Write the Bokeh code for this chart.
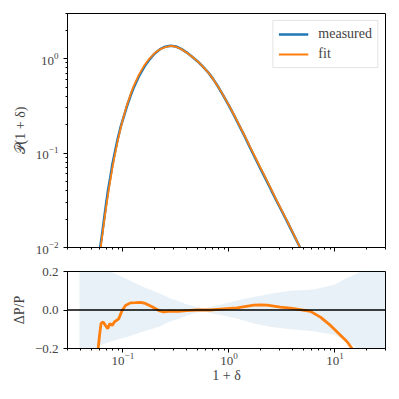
from bokeh.plotting import figure
from bokeh.layouts import column
from bokeh.models import FixedTicker, Legend, LegendItem, Span, CustomJSTickFormatter
from bokeh.embed import file_html
from bokeh.resources import INLINE

# ---- top panel: PDF ----
x_pdf = [0.0603, 0.0631, 0.0661, 0.0692, 0.0724, 0.0759, 0.0794, 0.0832, 0.0891, 0.0955,
         0.100, 0.1096, 0.1202, 0.1259, 0.1413, 0.1585, 0.1778, 0.1995, 0.2239, 0.2512,
         0.2818, 0.3162, 0.3548, 0.3981, 0.4467, 0.5012, 0.5623, 0.6310, 0.7079, 0.7943,
         0.8913, 1.0, 1.122, 1.259, 1.413, 1.585, 1.778, 1.995, 2.239, 2.512,
         2.818, 3.162, 3.548, 3.981, 4.467, 5.012]
fit_pdf = [0.00800, 0.01211, 0.01791, 0.02588, 0.03656, 0.05070, 0.06871, 0.09099, 0.1330, 0.1866,
           0.2286, 0.3273, 0.4436, 0.5070, 0.6720, 0.8414, 1.000, 1.143, 1.253, 1.324,
           1.361, 1.334, 1.259, 1.161, 1.052, 0.9441, 0.8318, 0.7244, 0.6095, 0.5012,
           0.4027, 0.3199, 0.2512, 0.1950, 0.1514, 0.1161, 0.08974, 0.06918, 0.05370, 0.04121,
           0.03162, 0.02455, 0.01905, 0.01462, 0.01122, 0.00851]
measured_pdf = [0.00914, 0.01297, 0.01926, 0.02829, 0.04040, 0.05465, 0.07462, 0.09700, 0.1400, 0.1914,
                0.2275, 0.3184, 0.4277, 0.4882, 0.6465, 0.8120, 0.9756, 1.132, 1.257, 1.336,
                1.369, 1.343, 1.265, 1.164, 1.054, 0.9441, 0.8318, 0.7244, 0.6095, 0.4997,
                0.4007, 0.3177, 0.2487, 0.1927, 0.1490, 0.1138, 0.08755, 0.06743, 0.05239, 0.04032,
                0.03106, 0.02419, 0.01882, 0.01448, 0.01115, 0.00851]

# ---- bottom panel: residual ----
x_res = [0.0569, 0.0604, 0.0622, 0.0650, 0.0684, 0.0719, 0.0752, 0.0791, 0.0832, 0.0912,
         0.0982, 0.1057, 0.1178, 0.1318, 0.1462, 0.1629, 0.1884, 0.2178, 0.2427, 0.2805,
         0.3357, 0.3981, 0.5012, 0.6683, 0.8318, 1.194, 1.714, 1.995, 2.291, 3.062,
         3.802, 4.395, 5.875, 7.295, 9.078, 10.86, 13.03, 14.52, 15.85]
res = [-0.26, -0.123, -0.070, -0.062, -0.080, -0.097, -0.070, -0.080, -0.062, -0.046,
       -0.003, 0.023, 0.037, 0.038, 0.040, 0.034, 0.017, -0.003, -0.010, -0.006,
       -0.007, -0.003, 0.000, 0.000, 0.005, 0.011, 0.025, 0.026, 0.025, 0.015,
       0.010, 0.005, -0.007, -0.037, -0.080, -0.122, -0.165, -0.200, -0.24]

x_band = [0.0389, 0.0501, 0.0537, 0.0631, 0.0762, 0.0912, 0.1096, 0.1585, 0.2259, 0.2805,
          0.3357, 0.3981, 0.5012, 0.575, 0.724, 1.194, 1.714, 2.455, 3.802, 6.31,
          10.0, 13.03, 16.22, 18.62, 30.2]
band_hi = [0.6, 0.45, 0.40, 0.32, 0.20, 0.18, 0.16, 0.118, 0.084, 0.06,
           0.045, 0.03, 0.015, 0.008, 0.02, 0.05, 0.067, 0.084, 0.10, 0.107,
           0.133, 0.167, 0.19, 0.21, 0.3]
band_lo = [-0.6, -0.35, -0.20, -0.18, -0.165, -0.152, -0.14, -0.11, -0.085, -0.058,
           -0.045, -0.03, -0.013, -0.008, -0.02, -0.044, -0.07, -0.087, -0.10, -0.11,
           -0.13, -0.165, -0.2, -0.23, -0.35]

BLUE = "#1f77b4"
ORANGE = "#ff7f0e"
FONT = "Liberation Serif"
FS = "13px"


def style(p):
    p.outline_line_color = "black"
    p.outline_line_width = 1
    p.xgrid.visible = False
    p.ygrid.visible = False
    for ax in (p.xaxis, p.yaxis):
        ax.major_tick_in = 0
        ax.major_tick_out = 4
        ax.minor_tick_in = 0
        ax.minor_tick_out = 2
        ax.major_label_text_font = FONT
        ax.major_label_text_font_size = FS
        ax.axis_label_text_font = FONT
        ax.axis_label_text_font_size = "14px"
        ax.axis_label_text_font_style = "normal"
        ax.axis_line_color = "black"
        ax.major_tick_line_color = "black"
        ax.minor_tick_line_color = "black"


p1 = figure(width=391, height=257, x_axis_type="log", y_axis_type="log",
            x_range=(0.03, 30), y_range=(0.01, 3.0),
            output_backend="svg", toolbar_location=None,
            min_border_left=67, min_border_right=6, min_border_top=13, min_border_bottom=10)
style(p1)
p1.xaxis.formatter = CustomJSTickFormatter(code="return ''")
p1.xaxis.major_label_text_font_size = "1px"
p1.xaxis.major_label_standoff = 0
p1.yaxis.axis_label = "𝒫(1 + δ)"

r_meas = p1.line(x_pdf, measured_pdf, line_color=BLUE, line_width=2.6)
r_fit = p1.line(x_pdf, fit_pdf, line_color=ORANGE, line_width=1.8)

legend = Legend(items=[LegendItem(label="measured", renderers=[r_meas]),
                       LegendItem(label="fit", renderers=[r_fit])],
                location="top_right")
legend.label_text_font = FONT
legend.label_text_font_size = "14px"
legend.glyph_width = 30
legend.glyph_height = 16
legend.label_height = 16
legend.label_standoff = 10
legend.padding = 5
legend.spacing = 4
legend.margin = 7
legend.border_line_color = "#cccccc"
legend.border_line_width = 1
legend.background_fill_alpha = 0.8
p1.add_layout(legend)

p2 = figure(width=391, height=128, x_axis_type="log",
            x_range=p1.x_range, y_range=(-0.2, 0.2),
            output_backend="svg", toolbar_location=None,
            min_border_left=67, min_border_right=6, min_border_top=14, min_border_bottom=10)
style(p2)
p2.varea(x=x_band, y1=band_lo, y2=band_hi, fill_color=BLUE, fill_alpha=0.1)
p2.add_layout(Span(location=0, dimension="width", line_color="black", line_width=1.3))
p2.line(x_res, res, line_color=ORANGE, line_width=2.8)
p2.yaxis.ticker = FixedTicker(ticks=[-0.2, 0.0, 0.2])
p2.yaxis.major_label_overrides = {-0.2: "−0.2", 0: "0.0", 0.2: "0.2"}
p2.yaxis.axis_label = "ΔP/P"
p2.xaxis.axis_label = "1 + δ"
p2.xaxis.major_label_standoff = 0
p2.xaxis.axis_label_standoff = 0

layout = column(p1, p2, spacing=0)
open("out.html", "w").write(file_html(layout, INLINE))
